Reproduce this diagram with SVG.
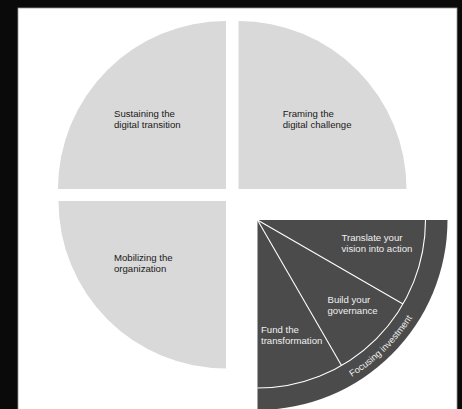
<svg xmlns="http://www.w3.org/2000/svg" width="462" height="409" viewBox="0 0 462 409">
<defs>
<style>
.q{fill:#d9d9d9}
.dark{fill:#4b4b4b}
.lbl{font-family:"Liberation Sans",Arial,sans-serif;font-size:9.6px;fill:#1a1a1a}
.lbl2{font-family:"Liberation Sans",Arial,sans-serif;font-size:9.6px;fill:#efefef}
.wl{fill:none;stroke:#ffffff;stroke-width:1.1}
</style>
<path id="arcText" d="M351.75,376.9 A183,183 0 0 0 429.5,282.6"/>
</defs>
<rect x="0" y="0" width="462" height="409" fill="#0a0a0a"/>
<rect x="18" y="8" width="439" height="410" fill="#ffffff" stroke="#9a9a9a" stroke-width="0.8"/>
<g id="sustaining">
<path class="q" d="M226,189 L58,189 A168,168 0 0 1 226,21 Z"/>
<text class="lbl" x="114" y="116.7">Sustaining the</text>
<text class="lbl" x="114" y="128">digital transition</text>
</g>
<g id="framing">
<path class="q" d="M238.5,189 L238.5,21 A168,168 0 0 1 406.5,189 Z"/>
<text class="lbl" x="282.7" y="116.7">Framing the</text>
<text class="lbl" x="282.7" y="128">digital challenge</text>
</g>
<g id="mobilizing">
<path class="q" d="M226,201 L226,368.5 A167.5,167.5 0 0 1 58.5,201 Z"/>
<text class="lbl" x="114" y="260.7">Mobilizing the</text>
<text class="lbl" x="114" y="272">organization</text>
</g>
<g id="focusing">
<path class="dark" d="M257.5,220 L447.5,220 A190,190 0 0 1 257.5,410 Z"/>
<text class="lbl2" style="font-size:9.3px"><textPath href="#arcText">Focusing investment</textPath></text>
</g>
<g id="connectors">
<path class="wl" d="M425.5,220 A168,168 0 0 1 257.5,388"/>
<line class="wl" x1="257.5" y1="220" x2="403" y2="304"/>
<line class="wl" x1="257.5" y1="220" x2="341.5" y2="365.5"/>
</g>
<g id="translate">
<text class="lbl2" x="341.5" y="240.7">Translate your</text>
<text class="lbl2" x="341.5" y="251.7">vision into action</text>
</g>
<g id="governance">
<text class="lbl2" x="327.5" y="303.3">Build your</text>
<text class="lbl2" x="327.5" y="314.3">governance</text>
</g>
<g id="fund">
<text class="lbl2" x="261" y="332.7">Fund the</text>
<text class="lbl2" x="261" y="343.5">transformation</text>
</g>
</svg>
